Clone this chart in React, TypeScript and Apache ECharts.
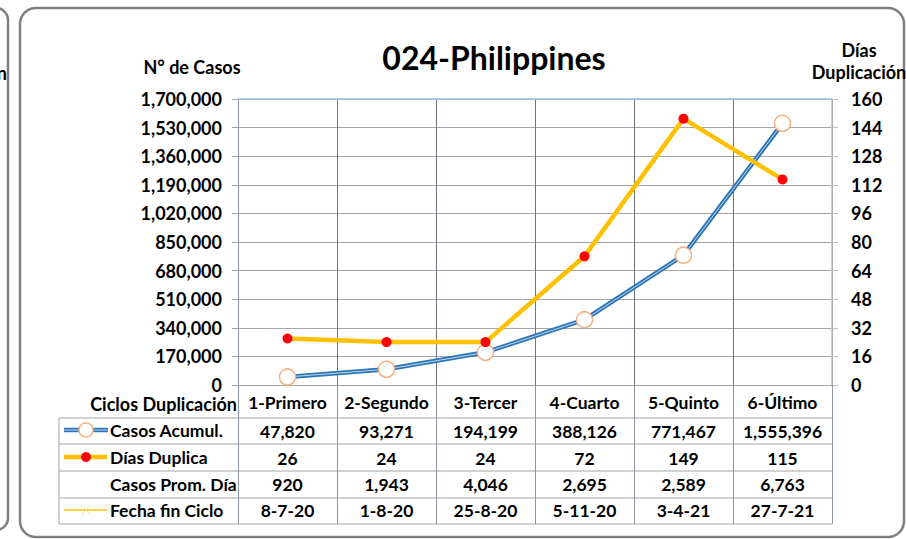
import React, { useEffect, useRef } from "react";
import * as echarts from "echarts";

const categories = ["1-Primero", "2-Segundo", "3-Tercer", "4-Cuarto", "5-Quinto", "6-Último"];
const casosAcumul = [47820, 93271, 194199, 388126, 771467, 1555396];
const diasDuplica = [26, 24, 24, 72, 149, 115];
const casosPromDia = [920, 1943, 4046, 2695, 2589, 6763];
const fechaFinCiclo = ["8-7-20", "1-8-20", "25-8-20", "5-11-20", "3-4-21", "27-7-21"];
const leftAxis = { min: 0, max: 1700000, interval: 170000 };
const rightAxis = { min: 0, max: 160, interval: 16 };
const rowLabels = ["Casos Acumul.", "Días Duplica", "Casos Prom. Día", "Fecha fin Ciclo"];

const FONT = 'Lato, "Liberation Sans", sans-serif';
const fmt = (n: number) => n.toLocaleString("en-US");

export default function App() {
  const ref = useRef<HTMLDivElement>(null);
  useEffect(() => {
    document.body.style.margin = "0";
    const chart = echarts.init(ref.current!, null, { renderer: "svg" });
    const rows: string[][] = [
      casosAcumul.map(fmt),
      diasDuplica.map(String),
      casosPromDia.map(fmt),
      fechaFinCiclo,
    ];
    const rowMargins = [46, 73, 99, 125];
    const gridLeft = 238, gridRight = 832, gridTop = 99, gridBottom = 385;
    const txt = { fontFamily: FONT, fontWeight: "bold" as const, color: "#000", fontSize: 17.5 };

    const extraX = rows.map((r, i) => ({
      type: "category" as const,
      data: categories,
      position: "bottom" as const,
      boundaryGap: true,
      axisLine: { show: false },
      axisTick: { show: false },
      splitLine: { show: false },
      axisLabel: {
        interval: 0,
        margin: rowMargins[i],
        verticalAlign: "middle" as const,
        formatter: (_v: string, idx: number) => r[idx],
        ...txt,
      },
    }));

    const tableLineY = [418, 444, 471, 498, 524];
    const tableLines = tableLineY.map((y) => ({
      type: "line",
      shape: { x1: 59, y1: y, x2: gridRight, y2: y },
      style: { stroke: "#a6a6a6", lineWidth: 1 },
    }));
    const rowCenters = [430, 457, 484, 510];

    chart.setOption({
      animation: false,
      backgroundColor: "#fff",
      title: {
        text: "024-Philippines",
        left: 489,
        textAlign: "center",
        top: 36,
        textStyle: { fontFamily: FONT, fontWeight: "bold", fontSize: 32, color: "#000" },
      },
      grid: { left: gridLeft, right: 906 - gridRight, top: gridTop, bottom: 539 - gridBottom },
      xAxis: [
        {
          type: "category",
          data: categories,
          boundaryGap: true,
          axisLine: { show: true, lineStyle: { color: "#a6a6a6", width: 1 } },
          axisTick: {
            show: true,
            interval: 0,
            length: 524 - gridBottom,
            lineStyle: { color: "#8c95a3", width: 1 },
          },
          splitLine: { show: true, interval: 0, lineStyle: { color: "#6b7484", width: 1 } },
          axisLabel: { interval: 0, margin: 17, verticalAlign: "middle", ...txt },
        },
        ...extraX,
      ],
      yAxis: [
        {
          type: "value",
          ...leftAxis,
          position: "left",
          axisLine: { show: true, lineStyle: { color: "#8c95a3" } },
          axisTick: { show: true, length: 6, lineStyle: { color: "#a6a6a6" } },
          splitLine: { show: true, lineStyle: { color: "#a6a6a6", width: 1 } },
          axisLabel: { margin: 16, formatter: (v: number) => fmt(v), ...txt, fontSize: 18 },
        },
        {
          type: "value",
          ...rightAxis,
          position: "right",
          axisLine: { show: true, lineStyle: { color: "#bfbfbf", width: 1.5 } },
          axisTick: { show: true, length: 6, lineStyle: { color: "#bfbfbf" } },
          splitLine: { show: false },
          axisLabel: { margin: 19, ...txt, fontSize: 18 },
        },
      ],
      series: [
        {
          name: "Casos Acumul.",
          type: "line",
          data: casosAcumul,
          xAxisIndex: 0,
          yAxisIndex: 0,
          symbol: "none",
          lineStyle: { color: "#2E75B6", width: 4.5 },
          z: 2,
        },
        {
          name: "Casos Acumul. inner",
          type: "line",
          data: casosAcumul,
          xAxisIndex: 0,
          yAxisIndex: 0,
          symbol: "none",
          lineStyle: { color: "#BDD7EE", width: 1 },
          z: 3,
        },
        {
          name: "Casos Acumul. markers",
          type: "line",
          data: casosAcumul,
          xAxisIndex: 0,
          yAxisIndex: 0,
          symbol: "circle",
          symbolSize: 16,
          showAllSymbol: true,
          lineStyle: { opacity: 0, width: 0 },
          itemStyle: { color: "#ffffff", borderColor: "#F4B183", borderWidth: 1.5 },
          z: 4,
        },
        {
          name: "Días Duplica",
          type: "line",
          data: diasDuplica,
          xAxisIndex: 0,
          yAxisIndex: 1,
          symbol: "circle",
          symbolSize: 10,
          showAllSymbol: true,
          lineStyle: { color: "#FFC000", width: 4.5 },
          itemStyle: { color: "#FF0000", borderColor: "#FF0000", borderWidth: 0 },
          z: 5,
        },
      ],
      graphic: [
        {
          type: "rect",
          shape: { x: 20, y: 8, width: 884, height: 529, r: 16 },
          style: { fill: "none", stroke: "#7f7f7f", lineWidth: 2.5 },
          z: -1,
        },
        {
          type: "rect",
          shape: { x: -40, y: 8, width: 48, height: 522, r: 12 },
          style: { fill: "none", stroke: "#7f7f7f", lineWidth: 2.5 },
          z: -1,
        },
        {
          type: "text",
          x: 7,
          y: 73,
          style: { text: "Duplicación", align: "right", verticalAlign: "middle", font: `bold 18px ${FONT}`, fill: "#000" },
        },
        {
          type: "line",
          shape: { x1: gridLeft, y1: gridTop, x2: gridRight, y2: gridTop },
          style: { stroke: "#9DC3E6", lineWidth: 1.5 },
          z: 10,
        },
        {
          type: "text",
          x: 192,
          y: 67,
          style: { text: "N° de Casos", align: "center", verticalAlign: "middle", font: `bold 18px ${FONT}`, fill: "#000" },
        },
        {
          type: "text",
          x: 859,
          y: 50,
          style: { text: "Días", align: "center", verticalAlign: "middle", font: `bold 18px ${FONT}`, fill: "#000" },
        },
        {
          type: "text",
          x: 859,
          y: 72,
          style: { text: "Duplicación", align: "center", verticalAlign: "middle", font: `bold 18px ${FONT}`, fill: "#000" },
        },
        {
          type: "text",
          x: 237,
          y: 404,
          style: { text: "Ciclos Duplicación", align: "right", verticalAlign: "middle", font: `bold 18px ${FONT}`, fill: "#000" },
        },
        ...tableLines,
        {
          type: "line",
          shape: { x1: 59, y1: 418, x2: 59, y2: 524 },
          style: { stroke: "#a6a6a6", lineWidth: 1 },
        },
        ...rowLabels.map((t, i) => ({
          type: "text",
          x: 110,
          y: rowCenters[i],
          style: { text: t, align: "left", verticalAlign: "middle", font: `bold 17.5px ${FONT}`, fill: "#000" },
        })),
        // legend keys
        { type: "line", shape: { x1: 64, y1: 430, x2: 108, y2: 430 }, style: { stroke: "#2E75B6", lineWidth: 4.5 } },
        { type: "line", shape: { x1: 64, y1: 430, x2: 108, y2: 430 }, style: { stroke: "#BDD7EE", lineWidth: 1 } },
        { type: "circle", shape: { cx: 86, cy: 430, r: 7 }, style: { fill: "#fff", stroke: "#F4B183", lineWidth: 1.5 } },
        { type: "line", shape: { x1: 64, y1: 457, x2: 107, y2: 457 }, style: { stroke: "#FFC000", lineWidth: 4.5 } },
        { type: "circle", shape: { cx: 86, cy: 457, r: 5 }, style: { fill: "#FF0000" } },
        { type: "line", shape: { x1: 64, y1: 510, x2: 107, y2: 510 }, style: { stroke: "#FFC000", lineWidth: 1.5 } },
        { type: "line", shape: { x1: 81, y1: 505, x2: 91, y2: 515 }, style: { stroke: "#FFE08A", lineWidth: 1 } },
        { type: "line", shape: { x1: 81, y1: 515, x2: 91, y2: 505 }, style: { stroke: "#FFE08A", lineWidth: 1 } },
      ],
    });
    return () => chart.dispose();
  }, []);
  return <div ref={ref} style={{ position: "fixed", left: 0, top: 0, width: 906, height: 539 }} />;
}
